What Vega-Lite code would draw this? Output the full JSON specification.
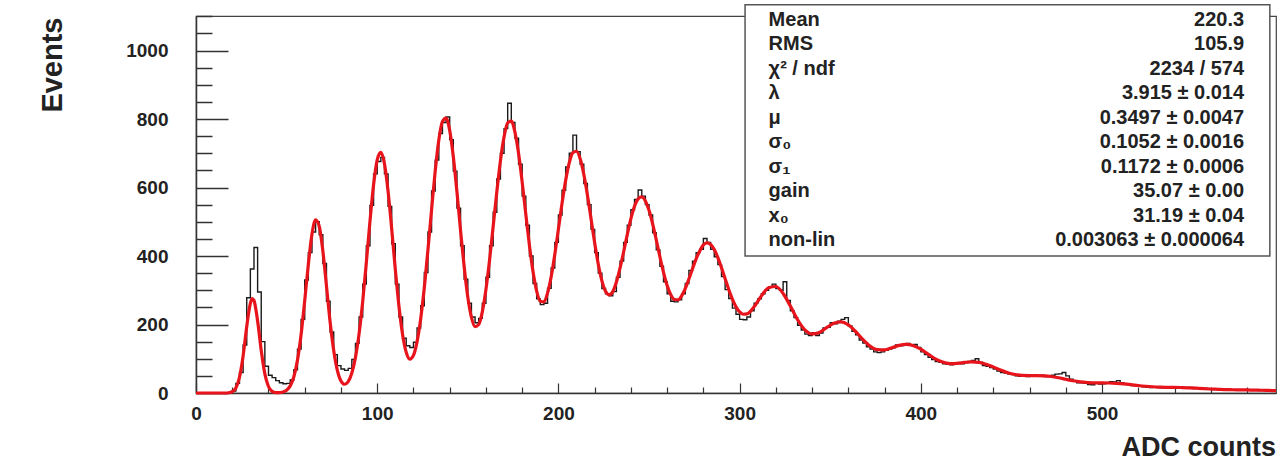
{
  "$schema": "https://vega.github.io/schema/vega-lite/v6.json",
  "width": 1080,
  "height": 377,
  "autosize": {"type": "none"},
  "padding": {"left": 196, "top": 16, "right": 2, "bottom": 83},
  "background": "white",
  "config": {"font": "Liberation Sans", "view": {"stroke": "#444", "strokeWidth": 1.2}},
  "datasets": {
    "hist": [
      {"adc":1,"events":0},{"adc":3,"events":0},{"adc":5,"events":0},{"adc":7,"events":0},{"adc":9,"events":0},{"adc":11,"events":0},{"adc":13,"events":0},{"adc":15,"events":0},{"adc":17,"events":0},{"adc":19,"events":1},
      {"adc":21,"events":6},{"adc":23,"events":28},{"adc":25,"events":60},{"adc":27,"events":140},{"adc":29,"events":278},{"adc":31,"events":362},{"adc":33,"events":425},{"adc":35,"events":295},{"adc":37,"events":150},{"adc":39,"events":78},
      {"adc":41,"events":52},{"adc":43,"events":45},{"adc":45,"events":36},{"adc":47,"events":30},{"adc":49,"events":27},{"adc":51,"events":28},{"adc":53,"events":38},{"adc":55,"events":68},{"adc":57,"events":128},{"adc":59,"events":215},
      {"adc":61,"events":330},{"adc":63,"events":410},{"adc":65,"events":470},{"adc":67,"events":500},{"adc":69,"events":462},{"adc":71,"events":378},{"adc":73,"events":268},{"adc":75,"events":178},{"adc":77,"events":112},{"adc":79,"events":80},
      {"adc":81,"events":70},{"adc":83,"events":66},{"adc":85,"events":72},{"adc":87,"events":98},{"adc":89,"events":145},{"adc":91,"events":222},{"adc":93,"events":318},{"adc":95,"events":430},{"adc":97,"events":548},{"adc":99,"events":640},
      {"adc":101,"events":676},{"adc":103,"events":688},{"adc":105,"events":640},{"adc":107,"events":545},{"adc":109,"events":436},{"adc":111,"events":318},{"adc":113,"events":222},{"adc":115,"events":160},{"adc":117,"events":138},{"adc":119,"events":133},
      {"adc":121,"events":148},{"adc":123,"events":190},{"adc":125,"events":255},{"adc":127,"events":352},{"adc":129,"events":470},{"adc":131,"events":590},{"adc":133,"events":680},{"adc":135,"events":758},{"adc":137,"events":790},{"adc":139,"events":806},
      {"adc":141,"events":740},{"adc":143,"events":648},{"adc":145,"events":540},{"adc":147,"events":430},{"adc":149,"events":332},{"adc":151,"events":262},{"adc":153,"events":222},{"adc":155,"events":205},{"adc":157,"events":218},{"adc":159,"events":262},
      {"adc":161,"events":338},{"adc":163,"events":430},{"adc":165,"events":528},{"adc":167,"events":625},{"adc":169,"events":700},{"adc":171,"events":772},{"adc":173,"events":846},{"adc":175,"events":790},{"adc":177,"events":744},{"adc":179,"events":668},
      {"adc":181,"events":575},{"adc":183,"events":490},{"adc":185,"events":400},{"adc":187,"events":320},{"adc":189,"events":275},{"adc":191,"events":258},{"adc":193,"events":262},{"adc":195,"events":306},{"adc":197,"events":365},{"adc":199,"events":440},
      {"adc":201,"events":520},{"adc":203,"events":592},{"adc":205,"events":660},{"adc":207,"events":700},{"adc":209,"events":753},{"adc":211,"events":705},{"adc":213,"events":668},{"adc":215,"events":612},{"adc":217,"events":550},{"adc":219,"events":478},
      {"adc":221,"events":410},{"adc":223,"events":350},{"adc":225,"events":305},{"adc":227,"events":290},{"adc":229,"events":284},{"adc":231,"events":296},{"adc":233,"events":338},{"adc":235,"events":385},{"adc":237,"events":440},{"adc":239,"events":490},
      {"adc":241,"events":535},{"adc":243,"events":565},{"adc":245,"events":593},{"adc":247,"events":575},{"adc":249,"events":550},{"adc":251,"events":520},{"adc":253,"events":468},{"adc":255,"events":418},{"adc":257,"events":370},{"adc":259,"events":325},
      {"adc":261,"events":290},{"adc":263,"events":268},{"adc":265,"events":266},{"adc":267,"events":272},{"adc":269,"events":290},{"adc":271,"events":320},{"adc":273,"events":358},{"adc":275,"events":385},{"adc":277,"events":410},{"adc":279,"events":420},
      {"adc":281,"events":451},{"adc":283,"events":440},{"adc":285,"events":420},{"adc":287,"events":398},{"adc":289,"events":375},{"adc":291,"events":340},{"adc":293,"events":302},{"adc":295,"events":276},{"adc":297,"events":248},{"adc":299,"events":230},
      {"adc":301,"events":215},{"adc":303,"events":214},{"adc":305,"events":222},{"adc":307,"events":240},{"adc":309,"events":262},{"adc":311,"events":275},{"adc":313,"events":290},{"adc":315,"events":300},{"adc":317,"events":310},{"adc":319,"events":318},
      {"adc":321,"events":305},{"adc":323,"events":300},{"adc":325,"events":325},{"adc":327,"events":270},{"adc":329,"events":240},{"adc":331,"events":220},{"adc":333,"events":198},{"adc":335,"events":184},{"adc":337,"events":172},{"adc":339,"events":168},
      {"adc":341,"events":176},{"adc":343,"events":168},{"adc":345,"events":175},{"adc":347,"events":190},{"adc":349,"events":192},{"adc":351,"events":205},{"adc":353,"events":202},{"adc":355,"events":210},{"adc":357,"events":215},{"adc":359,"events":220},
      {"adc":361,"events":196},{"adc":363,"events":180},{"adc":365,"events":170},{"adc":367,"events":155},{"adc":369,"events":146},{"adc":371,"events":135},{"adc":373,"events":128},{"adc":375,"events":120},{"adc":377,"events":118},{"adc":379,"events":120},
      {"adc":381,"events":125},{"adc":383,"events":128},{"adc":385,"events":132},{"adc":387,"events":140},{"adc":389,"events":138},{"adc":391,"events":143},{"adc":393,"events":145},{"adc":395,"events":140},{"adc":397,"events":142},{"adc":399,"events":133},
      {"adc":401,"events":120},{"adc":403,"events":112},{"adc":405,"events":104},{"adc":407,"events":98},{"adc":409,"events":92},{"adc":411,"events":90},{"adc":413,"events":85},{"adc":415,"events":84},{"adc":417,"events":82},{"adc":419,"events":88},
      {"adc":421,"events":86},{"adc":423,"events":85},{"adc":425,"events":88},{"adc":427,"events":92},{"adc":429,"events":95},{"adc":431,"events":100},{"adc":433,"events":90},{"adc":435,"events":80},{"adc":437,"events":78},{"adc":439,"events":74},
      {"adc":441,"events":70},{"adc":443,"events":64},{"adc":445,"events":60},{"adc":447,"events":58},{"adc":449,"events":55},{"adc":451,"events":54},{"adc":453,"events":50},{"adc":455,"events":49},{"adc":457,"events":50},{"adc":459,"events":48},
      {"adc":461,"events":52},{"adc":463,"events":50},{"adc":465,"events":49},{"adc":467,"events":52},{"adc":469,"events":48},{"adc":471,"events":50},{"adc":473,"events":52},{"adc":475,"events":55},{"adc":477,"events":56},{"adc":479,"events":60},
      {"adc":481,"events":50},{"adc":483,"events":40},{"adc":485,"events":34},{"adc":487,"events":30},{"adc":489,"events":30},{"adc":491,"events":28},{"adc":493,"events":25},{"adc":495,"events":24},{"adc":497,"events":28},{"adc":499,"events":26},
      {"adc":501,"events":27},{"adc":503,"events":30},{"adc":505,"events":33},{"adc":507,"events":32},{"adc":509,"events":36},{"adc":511,"events":30},{"adc":513,"events":27},{"adc":515,"events":24},{"adc":517,"events":22},{"adc":519,"events":21},
      {"adc":521,"events":20},{"adc":523,"events":18},{"adc":525,"events":17},{"adc":527,"events":16},{"adc":529,"events":18},{"adc":531,"events":16},{"adc":533,"events":15},{"adc":535,"events":18},{"adc":537,"events":17},{"adc":539,"events":15},
      {"adc":541,"events":16},{"adc":543,"events":17},{"adc":545,"events":14},{"adc":547,"events":15},{"adc":549,"events":16},{"adc":551,"events":13},{"adc":553,"events":14},{"adc":555,"events":12},{"adc":557,"events":13},{"adc":559,"events":11},
      {"adc":561,"events":10},{"adc":563,"events":12},{"adc":565,"events":11},{"adc":567,"events":9},{"adc":569,"events":10},{"adc":571,"events":9},{"adc":573,"events":10},{"adc":575,"events":8},{"adc":577,"events":9},{"adc":579,"events":10},
      {"adc":581,"events":9},{"adc":583,"events":8},{"adc":585,"events":9},{"adc":587,"events":7},{"adc":589,"events":8},{"adc":591,"events":8},{"adc":593,"events":7},{"adc":595,"events":7}
    ],
    "fit": [
      {"adc":0,"fit":0},{"adc":10,"fit":0},{"adc":16,"fit":0},{"adc":18,"fit":0.7},{"adc":20,"fit":3.6},{"adc":22,"fit":14.7},{"adc":24,"fit":46},{"adc":26,"fit":108},{"adc":28,"fit":194},{"adc":30,"fit":262},
      {"adc":31,"fit":275.6},{"adc":32,"fit":270},{"adc":34,"fit":210},{"adc":36,"fit":124},{"adc":38,"fit":55.7},{"adc":40,"fit":19},{"adc":42,"fit":4.9},{"adc":44,"fit":1.2},{"adc":46,"fit":0.9},{"adc":48,"fit":2.8},
      {"adc":50,"fit":8.1},{"adc":52,"fit":20.8},{"adc":54,"fit":47.5},{"adc":56,"fit":96},{"adc":58,"fit":171},{"adc":60,"fit":270},{"adc":62,"fit":376},{"adc":64,"fit":464},{"adc":66,"fit":506},{"adc":68,"fit":487},
      {"adc":70,"fit":415},{"adc":72,"fit":313},{"adc":74,"fit":208},{"adc":76,"fit":124},{"adc":78,"fit":66.4},{"adc":80,"fit":35.3},{"adc":82,"fit":25.6},{"adc":84,"fit":33.3},{"adc":86,"fit":58.4},{"adc":88,"fit":104},
      {"adc":90,"fit":173.5},{"adc":92,"fit":267.6},{"adc":94,"fit":381},{"adc":96,"fit":501},{"adc":98,"fit":608},{"adc":100,"fit":680.5},{"adc":102,"fit":702.7},{"adc":104,"fit":669.6},{"adc":106,"fit":589},{"adc":108,"fit":479},
      {"adc":110,"fit":360},{"adc":112,"fit":253.5},{"adc":114,"fit":171},{"adc":116,"fit":119},{"adc":118,"fit":99},{"adc":120,"fit":110},{"adc":122,"fit":150},{"adc":124,"fit":217},{"adc":126,"fit":308},{"adc":128,"fit":418},
      {"adc":130,"fit":535},{"adc":132,"fit":648},{"adc":134,"fit":739},{"adc":136,"fit":793},{"adc":138,"fit":803},{"adc":140,"fit":767},{"adc":142,"fit":690},{"adc":144,"fit":587.5},{"adc":146,"fit":474.5},{"adc":148,"fit":368},
      {"adc":150,"fit":280},{"adc":152,"fit":221},{"adc":154,"fit":194},{"adc":156,"fit":200},{"adc":158,"fit":237},{"adc":160,"fit":302},{"adc":162,"fit":388},{"adc":164,"fit":487},{"adc":166,"fit":587},{"adc":168,"fit":678},
      {"adc":170,"fit":748},{"adc":172,"fit":789},{"adc":174,"fit":794},{"adc":176,"fit":762},{"adc":178,"fit":700},{"adc":180,"fit":616},{"adc":182,"fit":522.5},{"adc":184,"fit":431},{"adc":186,"fit":354},{"adc":188,"fit":297.6},
      {"adc":190,"fit":268},{"adc":192,"fit":266},{"adc":194,"fit":291.6},{"adc":196,"fit":339.5},{"adc":198,"fit":404.5},{"adc":200,"fit":479},{"adc":202,"fit":554},{"adc":204,"fit":621},{"adc":206,"fit":673},{"adc":208,"fit":702},
      {"adc":210,"fit":706},{"adc":212,"fit":684},{"adc":214,"fit":639},{"adc":216,"fit":578.5},{"adc":218,"fit":509},{"adc":220,"fit":438.6},{"adc":222,"fit":376},{"adc":224,"fit":327.5},{"adc":226,"fit":297},{"adc":228,"fit":286.8},
      {"adc":230,"fit":296},{"adc":232,"fit":324},{"adc":234,"fit":364.6},{"adc":236,"fit":412.6},{"adc":238,"fit":462.6},{"adc":240,"fit":509},{"adc":242,"fit":545.4},{"adc":244,"fit":567},{"adc":246,"fit":572.6},{"adc":248,"fit":560.8},
      {"adc":250,"fit":533.5},{"adc":252,"fit":494},{"adc":254,"fit":447.3},{"adc":256,"fit":398},{"adc":258,"fit":352.3},{"adc":260,"fit":314},{"adc":262,"fit":287.2},{"adc":264,"fit":273},{"adc":266,"fit":272.3},{"adc":268,"fit":283.7},
      {"adc":270,"fit":305},{"adc":272,"fit":332.8},{"adc":274,"fit":363},{"adc":276,"fit":392},{"adc":278,"fit":415},{"adc":280,"fit":432.7},{"adc":282,"fit":438.6},{"adc":284,"fit":433.8},{"adc":286,"fit":419},{"adc":288,"fit":395.3},
      {"adc":290,"fit":366},{"adc":292,"fit":334},{"adc":294,"fit":302},{"adc":296,"fit":274},{"adc":298,"fit":251.6},{"adc":300,"fit":236.7},{"adc":302,"fit":230},{"adc":304,"fit":231},{"adc":308,"fit":252},{"adc":312,"fit":283.6},
      {"adc":316,"fit":307.6},{"adc":320,"fit":311},{"adc":324,"fit":290.6},{"adc":328,"fit":253.8},{"adc":332,"fit":214},{"adc":336,"fit":184.4},{"adc":340,"fit":172.4},{"adc":344,"fit":176.8},{"adc":348,"fit":190.8},{"adc":352,"fit":203.7},
      {"adc":356,"fit":207.8},{"adc":360,"fit":198.8},{"adc":364,"fit":179.6},{"adc":368,"fit":156.4},{"adc":372,"fit":137},{"adc":376,"fit":126.6},{"adc":380,"fit":125.9},{"adc":384,"fit":131.9},{"adc":388,"fit":139},{"adc":392,"fit":142.2},
      {"adc":396,"fit":138.3},{"adc":400,"fit":127.9},{"adc":404,"fit":113.7},{"adc":408,"fit":99.9},{"adc":412,"fit":90.3},{"adc":416,"fit":86},{"adc":420,"fit":86.6},{"adc":424,"fit":89.2},{"adc":428,"fit":91},{"adc":432,"fit":89.5},
      {"adc":436,"fit":84.1},{"adc":440,"fit":76.1},{"adc":444,"fit":66.9},{"adc":448,"fit":59.1},{"adc":452,"fit":53.9},{"adc":456,"fit":51.2},{"adc":460,"fit":50.9},{"adc":464,"fit":50.9},{"adc":468,"fit":50.2},{"adc":472,"fit":48.1},
      {"adc":476,"fit":44.5},{"adc":480,"fit":40},{"adc":484,"fit":35.8},{"adc":488,"fit":32.6},{"adc":492,"fit":30.6},{"adc":496,"fit":29.5},{"adc":500,"fit":29.5},{"adc":504,"fit":29.2},{"adc":508,"fit":28.2},{"adc":512,"fit":26.6},
      {"adc":516,"fit":24.4},{"adc":520,"fit":21.9},{"adc":524,"fit":19.8},{"adc":528,"fit":18.2},{"adc":532,"fit":17.2},{"adc":536,"fit":16.5},{"adc":540,"fit":16.4},{"adc":544,"fit":15.9},{"adc":548,"fit":15.2},{"adc":552,"fit":14.1},
      {"adc":556,"fit":12.8},{"adc":560,"fit":11.7},{"adc":564,"fit":10.8},{"adc":568,"fit":9.9},{"adc":572,"fit":9.5},{"adc":576,"fit":9.2},{"adc":580,"fit":8.9},{"adc":584,"fit":8.4},{"adc":588,"fit":8.05},{"adc":592,"fit":7.4},
      {"adc":596,"fit":6.75}
    ],
    "stats": [
      {"row":1,"label":"Mean","value":"220.3"},
      {"row":2,"label":"RMS","value":"105.9"},
      {"row":3,"label":"χ² / ndf","value":"2234 / 574"},
      {"row":4,"label":"λ","value":"3.915 ± 0.014"},
      {"row":5,"label":"μ","value":"0.3497 ± 0.0047"},
      {"row":6,"label":"σ₀","value":"0.1052 ± 0.0016"},
      {"row":7,"label":"σ₁","value":"0.1172 ± 0.0006"},
      {"row":8,"label":"gain","value":"35.07 ± 0.00"},
      {"row":9,"label":"x₀","value":"31.19 ± 0.04"},
      {"row":10,"label":"non-lin","value":"0.003063 ± 0.000064"}
    ]
  },
  "resolve": {"scale": {"y": "independent"}, "axis": {"x": "independent", "y": "independent"}},
  "layer": [
    {
      "data": {"name": "hist"},
      "mark": {"type": "line", "interpolate": "step", "color": "#1a1a1a", "strokeWidth": 1.4},
      "encoding": {
        "x": {
          "field": "adc", "type": "quantitative",
          "scale": {"domain": [0, 596], "nice": false, "zero": false},
          "axis": {
            "orient": "bottom",
            "values": [0,20,40,60,80,100,120,140,160,180,200,220,240,260,280,300,320,340,360,380,400,420,440,460,480,500,520,540,560,580],
            "format": "d",
            "labelExpr": "datum.value % 100 === 0 ? datum.label : ''",
            "tickSize": {"condition": {"test": "datum.value % 100 === 0", "value": -10}, "value": -6},
            "tickColor": "#333", "tickWidth": 1.2,
            "domainColor": "#333", "domainWidth": 1.5,
            "grid": false, "labelFlush": false, "labelOverlap": false,
            "labelFontSize": 19, "labelFontWeight": "bold", "labelColor": "#222", "labelPadding": 21,
            "title": "ADC counts", "titleFontSize": 27, "titleFontWeight": "bold", "titleColor": "#222",
            "titleX": 925, "titleY": 62, "titleAlign": "left", "titleBaseline": "alphabetic"
          }
        },
        "y": {
          "field": "events", "type": "quantitative",
          "scale": {"domain": [0, 1101], "nice": false, "zero": false},
          "axis": {
            "orient": "left",
            "values": [0,50,100,150,200,250,300,350,400,450,500,550,600,650,700,750,800,850,900,950,1000,1050,1100],
            "format": "d",
            "labelExpr": "datum.value % 200 === 0 ? datum.label : ''",
            "tickSize": {"condition": {"test": "datum.value % 200 === 0", "value": -32}, "value": -16},
            "tickColor": "#333", "tickWidth": 1.5,
            "domainColor": "#333", "domainWidth": 1.5,
            "grid": false, "labelFlush": false, "labelOverlap": false,
            "labelFontSize": 19, "labelFontWeight": "bold", "labelColor": "#222", "labelPadding": 60,
            "title": "Events", "titleFontSize": 29, "titleFontWeight": "bold", "titleColor": "#222",
            "titleAngle": -90, "titleX": -144, "titleY": 1, "titleAlign": "right", "titleBaseline": "middle"
          }
        }
      }
    },
    {
      "data": {"name": "fit"},
      "mark": {"type": "line", "interpolate": "monotone", "color": "#e8141c", "strokeWidth": 3.2},
      "encoding": {
        "x": {"field": "adc", "type": "quantitative", "scale": {"domain": [0, 596], "nice": false, "zero": false}, "axis": null},
        "y": {"field": "fit", "type": "quantitative", "scale": {"domain": [0, 1101], "nice": false, "zero": false}, "axis": null}
      }
    },
    {
      "data": {"values": [{}]},
      "mark": {"type": "rect", "fill": "white", "stroke": "#555", "strokeWidth": 1.5, "clip": false},
      "encoding": {
        "x": {"datum": 303, "type": "quantitative", "scale": {"domain": [0, 596], "nice": false, "zero": false}, "axis": null},
        "x2": {"datum": 592.6},
        "y": {"datum": 1133.5, "type": "quantitative", "scale": {"domain": [0, 1101], "nice": false, "zero": false}, "axis": null},
        "y2": {"datum": 400}
      }
    },
    {
      "data": {"name": "stats"},
      "mark": {"type": "text", "align": "left", "baseline": "middle", "fontSize": 20, "fontWeight": "bold", "color": "#222"},
      "encoding": {
        "x": {"datum": 316, "type": "quantitative", "scale": {"domain": [0, 596], "nice": false, "zero": false}, "axis": null},
        "y": {"field": "row", "type": "quantitative", "scale": {"domain": [1, 10], "range": [4, 224], "nice": false, "zero": false}, "axis": null},
        "text": {"field": "label"}
      }
    },
    {
      "data": {"name": "stats"},
      "mark": {"type": "text", "align": "right", "baseline": "middle", "fontSize": 20, "fontWeight": "bold", "color": "#222"},
      "encoding": {
        "x": {"datum": 578.4, "type": "quantitative", "scale": {"domain": [0, 596], "nice": false, "zero": false}, "axis": null},
        "y": {"field": "row", "type": "quantitative", "scale": {"domain": [1, 10], "range": [4, 224], "nice": false, "zero": false}, "axis": null},
        "text": {"field": "value"}
      }
    }
  ]
}
